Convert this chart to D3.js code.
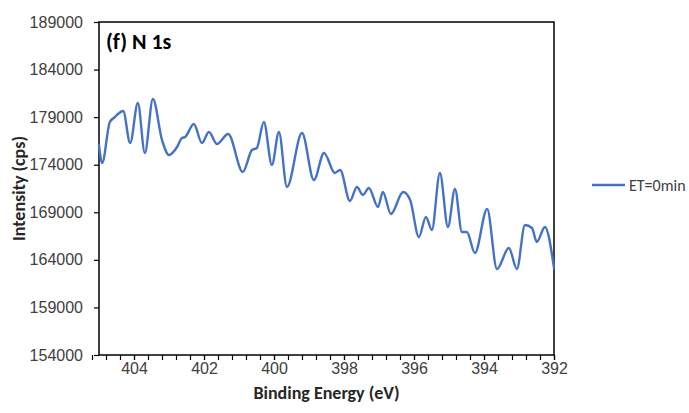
<!DOCTYPE html>
<html>
<head>
<meta charset="utf-8">
<script src="https://cdn.jsdelivr.net/npm/d3@7/dist/d3.min.js"></script>
<style>
  html, body { margin: 0; padding: 0; background: #fff; }
  svg { display: block; font-family: Carlito, "Open Sans", "Liberation Sans", sans-serif; }
</style>
</head>
<body>
<svg id="chart" width="689" height="413"></svg>
<script>
// N 1s spectrum, binding energy (eV) vs intensity (cps)
const bindingEnergy = [
  405.00, 404.91, 404.69, 404.54, 404.46, 404.31, 404.11, 403.89, 403.69, 403.46,
  403.20, 403.00, 402.77, 402.63, 402.54, 402.29, 402.06, 401.86, 401.63, 401.31,
  400.89, 400.63, 400.49, 400.29, 400.06, 399.86, 399.63, 399.20, 398.86, 398.57,
  398.26, 398.11, 397.83, 397.63, 397.46, 397.29, 397.03, 396.89, 396.66, 396.31,
  396.11, 395.86, 395.66, 395.49, 395.26, 395.03, 394.83, 394.63, 394.49, 394.26,
  393.91, 393.63, 393.29, 393.06, 392.83, 392.63, 392.49, 392.26, 392.00
];
const intensity = [
  176070, 174180, 178490, 179020, 179330, 179650, 176280, 180490, 175230, 180910,
  176600, 175020, 175860, 176810, 176910, 178280, 176280, 177440, 176180, 177230,
  173240, 175550, 175760, 178490, 173970, 177440, 171660, 177330, 172390, 175230,
  173130, 173450, 170190, 171660, 170820, 171550, 169560, 171130, 168820, 171130,
  170290, 166400, 168510, 167140, 173130, 167460, 171450, 166930, 166930, 164720,
  169350, 163040, 165250, 163040, 167670, 167350, 165880, 167460, 163150
];
const seriesName = "ET=0min";
const panelTitle = "(f) N 1s";
const xTitle = "Binding Energy (eV)";
const yTitle = "Intensity (cps)";
const xMajorTicks = [404, 402, 400, 398, 396, 394, 392];
const yTicks = [154000, 159000, 164000, 169000, 174000, 179000, 184000, 189000];
const xDomain = [405, 392];
const yDomain = [154000, 189000];
const xMinorStep = 0.4;

const svg = d3.select("#chart");
const plot = { left: 99, right: 554, top: 22, bottom: 355 };

const x = d3.scaleLinear().domain(xDomain).range([plot.left, plot.right]);
const y = d3.scaleLinear().domain(yDomain).range([plot.bottom, plot.top]);

const labelColor = "#404040";

// minor x ticks from the axis minimum upward
const xMinorTicks = d3.range(0, Math.round((xDomain[0] - xDomain[1]) / xMinorStep) + 1)
  .map(i => +(xDomain[1] + i * xMinorStep).toFixed(2));

// y axis
const yAxis = svg.append("g")
  .attr("transform", `translate(${plot.left},0)`)
  .call(d3.axisLeft(y).tickValues(yTicks).tickFormat(d3.format("d")).tickSize(5).tickPadding(11));
yAxis.select(".domain").remove();
yAxis.selectAll(".tick line").attr("stroke", "#000").attr("stroke-width", 1.2);
yAxis.selectAll(".tick text").attr("fill", labelColor).style("font-size", "16px");

// x axis, minor ticks
const xMinor = svg.append("g")
  .attr("transform", `translate(0,${plot.bottom})`)
  .call(d3.axisBottom(x).tickValues(xMinorTicks).tickFormat("").tickSize(5));
xMinor.select(".domain").remove();
xMinor.selectAll(".tick line").attr("stroke", "#000").attr("stroke-width", 1.2);

// x axis, major ticks with labels
const xAxis = svg.append("g")
  .attr("transform", `translate(0,${plot.bottom})`)
  .call(d3.axisBottom(x).tickValues(xMajorTicks).tickFormat(d3.format("d")).tickSize(5).tickPadding(3));
xAxis.select(".domain").remove();
xAxis.selectAll(".tick line").attr("stroke", "#000").attr("stroke-width", 1.2);
xAxis.selectAll(".tick text").attr("fill", labelColor).style("font-size", "16px");

// plot frame
svg.append("rect")
  .attr("x", plot.left).attr("y", plot.top)
  .attr("width", plot.right - plot.left).attr("height", plot.bottom - plot.top)
  .attr("fill", "none").attr("stroke", "#000").attr("stroke-width", 1.5);

// spectrum line
const pts = bindingEnergy.map((e, i) => [e, intensity[i]]);
const line = d3.line()
  .x(d => x(d[0]))
  .y(d => y(d[1]))
  .curve(d3.curveMonotoneX);

svg.append("path")
  .datum(pts)
  .attr("d", line)
  .attr("fill", "none")
  .attr("stroke", "#4472C4")
  .attr("stroke-width", 2.4)
  .attr("stroke-linejoin", "round")
  .attr("stroke-linecap", "round");

// panel title
svg.append("text")
  .attr("x", 106).attr("y", 49)
  .attr("fill", "#000")
  .style("font-size", "22px").style("font-weight", "bold")
  .text(panelTitle);

// axis titles
svg.append("text")
  .attr("x", (plot.left + plot.right) / 2).attr("y", 399)
  .attr("text-anchor", "middle")
  .attr("fill", "#262626")
  .style("font-size", "18px").style("font-weight", "bold")
  .text(xTitle);

svg.append("text")
  .attr("transform", `translate(25,${(plot.top + plot.bottom) / 2}) rotate(-90)`)
  .attr("text-anchor", "middle")
  .attr("fill", "#262626")
  .style("font-size", "18px").style("font-weight", "bold")
  .text(yTitle);

// legend
const legend = svg.append("g").attr("transform", "translate(592,185)");
legend.append("line")
  .attr("x1", 0).attr("x2", 33).attr("y1", 0).attr("y2", 0)
  .attr("stroke", "#4472C4").attr("stroke-width", 2.4);
legend.append("text")
  .attr("x", 37).attr("y", 0).attr("dy", "0.35em")
  .attr("fill", labelColor)
  .style("font-size", "16px")
  .text(seriesName);
</script>
</body>
</html>
